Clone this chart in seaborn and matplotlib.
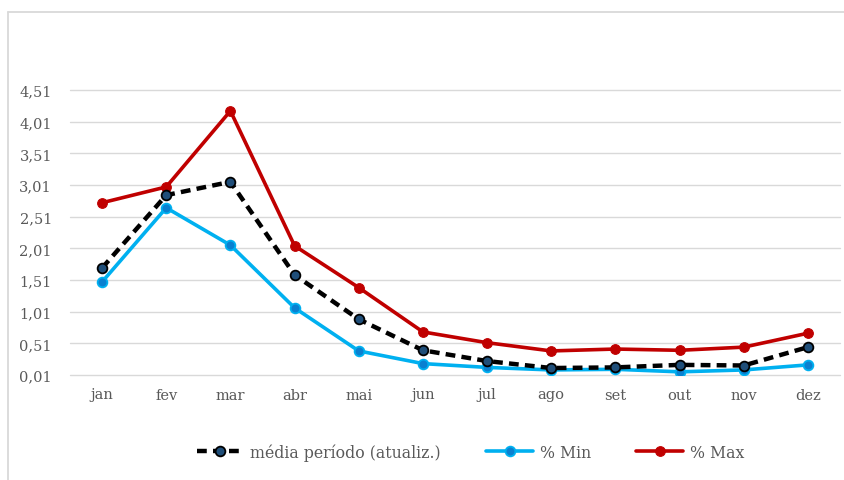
import pandas as pd
import matplotlib.pyplot as plt
import seaborn as sns
from matplotlib.lines import Line2D
from matplotlib.ticker import FuncFormatter

meses = ['jan', 'fev', 'mar', 'abr', 'mai', 'jun', 'jul', 'ago', 'set', 'out', 'nov', 'dez']
media = [1.70, 2.85, 3.06, 1.59, 0.89, 0.40, 0.23, 0.12, 0.13, 0.17, 0.16, 0.45]
pct_min = [1.48, 2.65, 2.06, 1.07, 0.39, 0.19, 0.13, 0.09, 0.10, 0.06, 0.09, 0.17]
pct_max = [2.73, 2.98, 4.18, 2.05, 1.39, 0.69, 0.52, 0.39, 0.42, 0.40, 0.45, 0.67]
yticks = [0.01, 0.51, 1.01, 1.51, 2.01, 2.51, 3.01, 3.51, 4.01, 4.51]

df = pd.DataFrame({'mes': meses, 'x': range(len(meses)),
                   'media': media, 'min': pct_min, 'max': pct_max})

sns.set_style('white')
plt.rcParams['font.family'] = ['DejaVu Serif']

fig = plt.figure(figsize=(8.45, 4.81), dpi=100)
ax = fig.add_axes([70 / 845, 1 - 376 / 481, 770 / 845, 285 / 481])

sns.lineplot(data=df, x='x', y='media', ax=ax, color='black', lw=3.2,
             dashes=False, linestyle=(0, (2.2, 1.4)), marker='o', markersize=7,
             markerfacecolor='#1F4E79', markeredgecolor='black', markeredgewidth=1.3,
             label='média período (atualiz.)', zorder=4)
sns.lineplot(data=df, x='x', y='min', ax=ax, color='#00B0F0', lw=2.6,
             marker='o', markersize=7, markerfacecolor='#0A80D0',
             markeredgecolor='#00B0F0', markeredgewidth=1.3, label='% Min', zorder=3)
sns.lineplot(data=df, x='x', y='max', ax=ax, color='#C00000', lw=2.6,
             marker='o', markersize=7, markerfacecolor='#C00000',
             markeredgecolor='#C00000', label='% Max', zorder=3)

ax.set_xlim(-0.5, 11.5)
ax.set_ylim(0.01, 4.51)
ax.set_yticks(yticks)
ax.yaxis.set_major_formatter(FuncFormatter(lambda v, p: f'{v:.2f}'.replace('.', ',')))
ax.set_xticks(range(len(meses)))
ax.set_xticklabels(meses)
ax.tick_params(axis='both', labelsize=10.5, colors='#595959', length=0)
ax.tick_params(axis='y', pad=13)
ax.tick_params(axis='x', pad=9)
ax.set_xlabel('')
ax.set_ylabel('')
ax.grid(axis='y', color='#D9D9D9', lw=1)
for g in ax.yaxis.get_gridlines():
    g.set_clip_on(False)
for s in ax.spines.values():
    s.set_visible(False)
ax.set_axisbelow(True)

leg = ax.legend(loc='center', bbox_to_anchor=(0.52, -0.27), ncol=3, frameon=False,
                fontsize=11.3, handlelength=3.0, columnspacing=2.9, handletextpad=0.4)
for t in leg.get_texts():
    t.set_color('#595959')

# moldura do gráfico
fig.add_artist(Line2D([8 / 845, 1], [1 - 13 / 481, 1 - 13 / 481], color='#D9D9D9', lw=1.3))
fig.add_artist(Line2D([8 / 845, 8 / 845], [0, 1 - 13 / 481], color='#D9D9D9', lw=1.3))

fig.savefig('out.png', dpi=100)
